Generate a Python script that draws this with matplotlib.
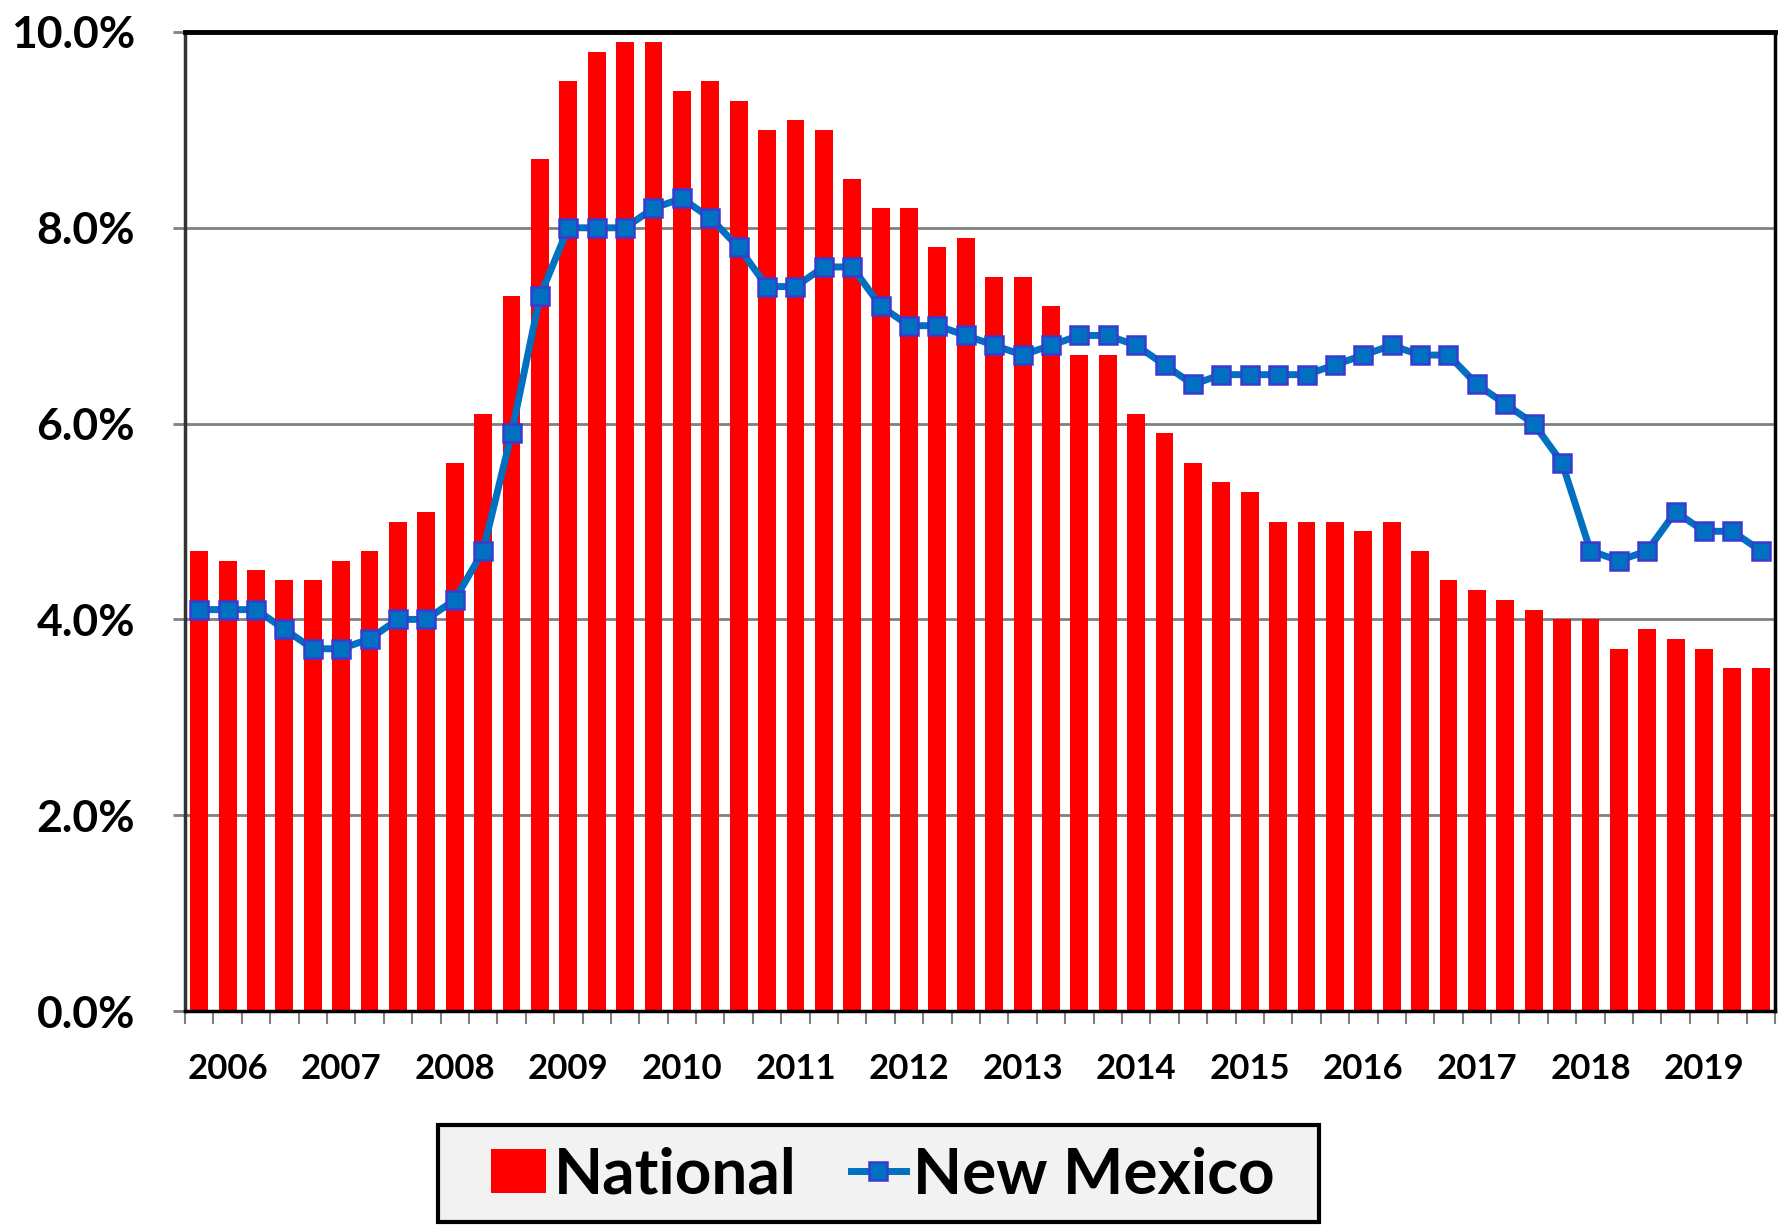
import matplotlib
matplotlib.use("Agg")
import matplotlib.pyplot as plt
from matplotlib.lines import Line2D
from matplotlib.patches import Patch, Rectangle
from matplotlib.ticker import FuncFormatter, FixedLocator

plt.rcParams["font.family"] = ["Lato", "DejaVu Sans"]
plt.rcParams["font.weight"] = "bold"

# quarterly unemployment rate, 2006 Q1 .. 2019 Q4 (percent)
years = [str(y) for y in range(2006, 2020)]
national = [
    4.7, 4.6, 4.5, 4.4,
    4.4, 4.6, 4.7, 5.0,
    5.1, 5.6, 6.1, 7.3,
    8.7, 9.5, 9.8, 9.9,
    9.9, 9.4, 9.5, 9.3,
    9.0, 9.1, 9.0, 8.5,
    8.2, 8.2, 7.8, 7.9,
    7.5, 7.5, 7.2, 6.7,
    6.7, 6.1, 5.9, 5.6,
    5.4, 5.3, 5.0, 5.0,
    5.0, 4.9, 5.0, 4.7,
    4.4, 4.3, 4.2, 4.1,
    4.0, 4.0, 3.7, 3.9,
    3.8, 3.7, 3.5, 3.5,
]
new_mexico = [
    4.1, 4.1, 4.1, 3.9,
    3.7, 3.7, 3.8, 4.0,
    4.0, 4.2, 4.7, 5.9,
    7.3, 8.0, 8.0, 8.0,
    8.2, 8.3, 8.1, 7.8,
    7.4, 7.4, 7.6, 7.6,
    7.2, 7.0, 7.0, 6.9,
    6.8, 6.7, 6.8, 6.9,
    6.9, 6.8, 6.6, 6.4,
    6.5, 6.5, 6.5, 6.5,
    6.6, 6.7, 6.8, 6.7,
    6.7, 6.4, 6.2, 6.0,
    5.6, 4.7, 4.6, 4.7,
    5.1, 4.9, 4.9, 4.7,
]

RED = "#ff0000"
BLUE = "#0070c0"
EDGE = "#3a3ad0"
W, H = 1780, 1225

fig = plt.figure(figsize=(W / 100, H / 100), dpi=100)
fig.set_facecolor("white")
left, right, top, bottom = 185, 1775, 32, 1011
ax = fig.add_axes([left / W, (H - bottom) / H, (right - left) / W, (bottom - top) / H])

x = list(range(len(national)))
ax.bar(x, national, width=0.63, color=RED, zorder=2)
ax.plot(x, new_mexico, color=BLUE, lw=5, marker="s", ms=12.5,
        mfc=BLUE, mec=EDGE, mew=1.8, zorder=3)

ax.set_xlim(-0.5, len(x) - 0.5)
ax.set_ylim(0, 10)
ax.set_yticks([0, 2, 4, 6, 8, 10])
ax.yaxis.set_major_formatter(FuncFormatter(lambda v, p: f"{v:.1f}%"))
ax.yaxis.grid(True, color="#808080", lw=2)
ax.set_axisbelow(True)

# year labels under the second quarter, ticks at quarter boundaries
ax.xaxis.set_major_locator(FixedLocator([4 * i + 1 for i in range(len(years))]))
ax.set_xticklabels(years)
ax.xaxis.set_minor_locator(FixedLocator([i - 0.5 for i in range(len(x) + 1)]))
ax.tick_params(axis="x", which="major", length=0, pad=30, labelsize=25)
ax.tick_params(axis="x", which="minor", length=9, width=1.5, color="#808080")
ax.tick_params(axis="y", length=9, width=2, color="#808080", pad=27, labelsize=32)

for name, sp in ax.spines.items():
    sp.set_color("black")
ax.spines["top"].set_linewidth(3.5)
ax.spines["right"].set_linewidth(2.5)
ax.spines["bottom"].set_linewidth(2.5)
ax.spines["left"].set_linewidth(2.5)
ax.spines["left"].set_color("#333333")

# legend box drawn by hand so its padding matches the original
fig.patches.append(Rectangle((438 / W, 3 / H), 881 / W, 97 / H,
                             transform=fig.transFigure, facecolor="#f2f2f2",
                             edgecolor="black", lw=3, zorder=0))
handles = [
    Patch(facecolor=RED, edgecolor="none"),
    Line2D([], [], color=BLUE, lw=5, marker="s", ms=12.5, mfc=BLUE, mec=EDGE, mew=1.8),
]
leg = fig.legend(handles, ["National", "New Mexico"], loc="center",
                 bbox_to_anchor=(883 / W, (H - 1175) / H), ncol=2,
                 prop={"family": "Lato", "weight": "bold", "size": 46},
                 frameon=False,
                 handlelength=0.86, handleheight=0.68, handletextpad=0.12,
                 columnspacing=0.85, borderpad=0.2)

fig.savefig("out.png", dpi=100, facecolor="white")
